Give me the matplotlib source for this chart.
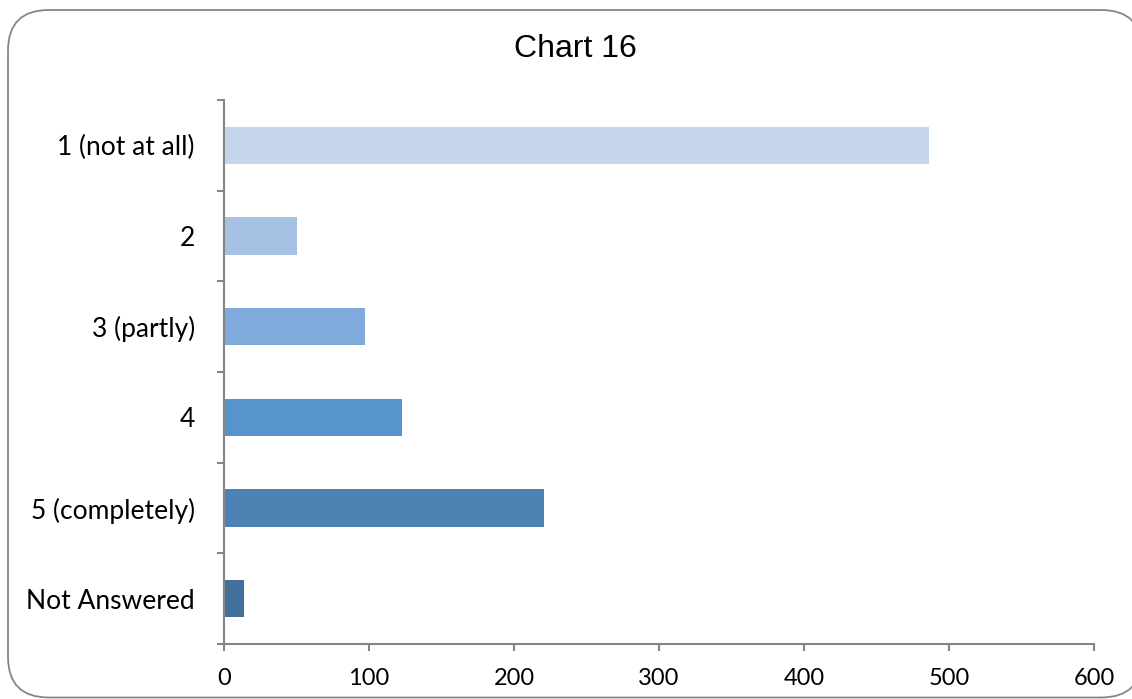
import matplotlib.pyplot as plt
from matplotlib.patches import FancyBboxPatch
import numpy as np

categories = ['1 (not at all)', '2', '3 (partly)', '4', '5 (completely)', 'Not Answered']
counts = [486, 50, 97, 123, 221, 14]
colors = ['#C5D5EB', '#A5C1E4', '#7FAADB', '#5894CC', '#4D83B4', '#41709C']
xticks = [0, 100, 200, 300, 400, 500, 600]

W, H = 1132, 699
fig = plt.figure(figsize=(W / 100, H / 100), dpi=100)

# rounded chart border (right edge runs off the picture)
border = FancyBboxPatch((8 / W, 1.5 / H), (1142 - 8) / W, (697.5 - 10) / H,
                        boxstyle='round,pad=0,rounding_size=0.036',
                        transform=fig.transFigure, facecolor='white', edgecolor='#868686',
                        linewidth=1.3, mutation_aspect=W / H, zorder=-5)
fig.patches.append(border)

ax = fig.add_axes([224 / W, 1 - 644 / H, (1094 - 224) / W, (644 - 100) / H])
ax.set_facecolor('none')

y = np.arange(len(categories))
ax.barh(y, counts, height=0.41, color=colors)

ax.set_xlim(0, 600)
ax.set_ylim(len(categories) - 0.5, -0.5)
ax.set_xticks(xticks)
ax.set_yticks(y)
ax.set_yticklabels(categories)
ax.set_yticks(np.arange(len(categories) + 1) - 0.5, minor=True)

for s in ['top', 'right']:
    ax.spines[s].set_visible(False)
for s in ['left', 'bottom']:
    ax.spines[s].set_color('#868686')
    ax.spines[s].set_linewidth(1.5)

ax.tick_params(axis='y', which='major', length=0, pad=21, labelsize=19)
ax.tick_params(axis='y', which='minor', length=5, width=1.5, color='#868686')
ax.tick_params(axis='x', length=5, width=1.5, color='#868686', pad=12, labelsize=17)
for lab in ax.get_yticklabels() + ax.get_xticklabels():
    lab.set_fontfamily('Lato')

fig.text(575 / W, 1 - 49 / H, 'Chart 16', ha='center', va='center',
         fontsize=23, family='Liberation Sans')

fig.savefig('out.png', dpi=100)
